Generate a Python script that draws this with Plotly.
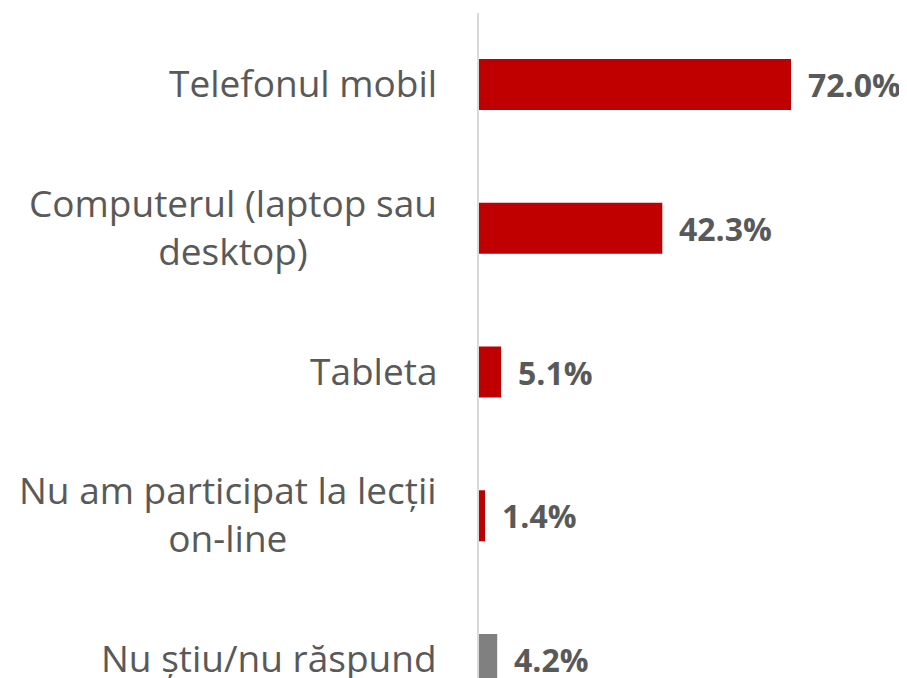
import plotly.graph_objects as go

categories = ["Telefonul mobil", "Computerul (laptop sau desktop)", "Tableta",
              "Nu am participat la lecții on-line", "Nu știu/nu răspund"]
category_labels = ["Telefonul mobil", "Computerul (laptop sau<br>desktop)", "Tableta",
                   "Nu am participat la lecții<br>on-line", "Nu știu/nu răspund"]
values = [72.0, 42.3, 5.1, 1.4, 4.2]

bar_colors = ["#C00000", "#C00000", "#C00000", "#C00000", "#808080"]
text_color = "#595959"

fig = go.Figure(go.Bar(
    x=values, y=categories, orientation="h",
    marker=dict(color=bar_colors, line=dict(width=0)),
    hoverinfo="skip",
))

annotations = []
for cat, lab in zip(categories, category_labels):
    annotations.append(dict(
        xref="paper", x=0, yref="y", y=cat, text=lab, showarrow=False,
        xanchor="right", yanchor="middle", align="center", xshift=-40, yshift=2,
        font=dict(family="Open Sans", size=37, color=text_color)))
for cat, v in zip(categories, values):
    annotations.append(dict(
        xref="x", x=v, yref="y", y=cat, text=f"{v:.1f}%", showarrow=False,
        xanchor="left", yanchor="middle", xshift=15,
        font=dict(family="Open Sans", size=32, color=text_color, weight="bold")))

fig.update_layout(
    width=907, height=678,
    margin=dict(l=471, r=46, t=5, b=0),
    paper_bgcolor="white", plot_bgcolor="white",
    bargap=0.645,
    showlegend=False,
    annotations=annotations,
    xaxis=dict(range=[0, 90], visible=False, showgrid=False, zeroline=False),
    yaxis=dict(categoryorder="array", categoryarray=categories,
               range=[4.184, -0.497], showticklabels=False, showgrid=False,
               zeroline=False, showline=True, linecolor="#D9D9D9", linewidth=1.5,
               ticks=""),
)

fig.write_html("out.html")
